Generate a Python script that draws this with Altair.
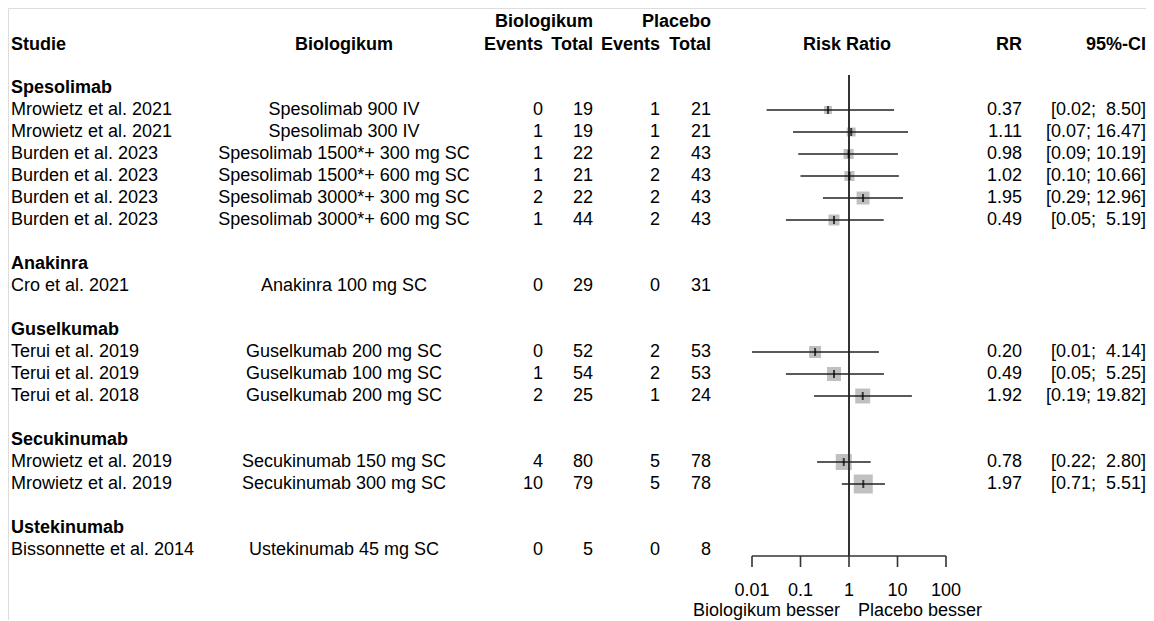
import altair as alt
import pandas as pd

# ---------------- data ----------------
groups = ["Spesolimab", "Anakinra", "Guselkumab", "Secukinumab", "Ustekinumab"]
study_group = ["Spesolimab"] * 6 + ["Anakinra"] + ["Guselkumab"] * 3 + ["Secukinumab"] * 2 + ["Ustekinumab"]
studies = ["Mrowietz et al. 2021", "Mrowietz et al. 2021", "Burden et al. 2023", "Burden et al. 2023",
           "Burden et al. 2023", "Burden et al. 2023", "Cro et al. 2021", "Terui et al. 2019",
           "Terui et al. 2019", "Terui et al. 2018", "Mrowietz et al. 2019", "Mrowietz et al. 2019",
           "Bissonnette et al. 2014"]
biologics = ["Spesolimab 900 IV", "Spesolimab 300 IV", "Spesolimab 1500*+ 300 mg SC",
             "Spesolimab 1500*+ 600 mg SC", "Spesolimab 3000*+ 300 mg SC", "Spesolimab 3000*+ 600 mg SC",
             "Anakinra 100 mg SC", "Guselkumab 200 mg SC", "Guselkumab 100 mg SC", "Guselkumab 200 mg SC",
             "Secukinumab 150 mg SC", "Secukinumab 300 mg SC", "Ustekinumab 45 mg SC"]
events_bio = [0, 1, 1, 1, 2, 1, 0, 0, 1, 2, 4, 10, 0]
total_bio = [19, 19, 22, 21, 22, 44, 29, 52, 54, 25, 80, 79, 5]
events_pla = [1, 1, 2, 2, 2, 2, 0, 2, 2, 1, 5, 5, 0]
total_pla = [21, 21, 43, 43, 43, 43, 31, 53, 53, 24, 78, 78, 8]
rr = [0.37, 1.11, 0.98, 1.02, 1.95, 0.49, None, 0.20, 0.49, 1.92, 0.78, 1.97, None]
ci_low = [0.02, 0.07, 0.09, 0.10, 0.29, 0.05, None, 0.01, 0.05, 0.19, 0.22, 0.71, None]
ci_high = [8.50, 16.47, 10.19, 10.66, 12.96, 5.19, None, 4.14, 5.25, 19.82, 2.80, 5.51, None]
weight = [16, 20, 25, 25, 42, 30, None, 36, 49, 56, 64, 90, None]
axis_ticks = [0.01, 0.1, 1, 10, 100]
axis_labels = ["0.01", "0.1", "1", "10", "100"]

# ---------------- layout helpers ----------------
FONT = "Liberation Sans"
FS = 18

rows, group_rows = [], []
k = 2
for g in groups:
    group_rows.append(k)
    n = study_group.count(g)
    rows.extend(range(k + 1, k + 1 + n))
    k += n + 2


def ci_text(lo, hi):
    if lo is None:
        return ""
    pad = "\u00a0" if hi >= 10 else "\u00a0\u00a0"
    return f"[{lo:.2f};{pad}{hi:.2f}]"


df = pd.DataFrame({
    "row": rows, "study": studies, "bio": biologics,
    "eb": [str(v) for v in events_bio], "nb": [str(v) for v in total_bio],
    "ep": [str(v) for v in events_pla], "np": [str(v) for v in total_pla],
    "rr": rr, "lo": ci_low, "hi": ci_high, "w": weight,
    "rr_txt": ["" if v is None else f"{v:.2f}" for v in rr],
    "ci_txt": [ci_text(a, b) for a, b in zip(ci_low, ci_high)],
})
gdf = pd.DataFrame({"row": group_rows, "name": groups})
fdf = df.dropna(subset=["rr"])

yscale = alt.Scale(domain=[3, 23], range=[102, 542])
xscale = alt.Scale(type="log", domain=[0.01, 100], range=[744, 938])
Y = alt.Y("row:Q", scale=yscale, axis=None)


def col(field, x, align, data=df, bold=False):
    return alt.Chart(data).mark_text(
        align=align, baseline="middle", font=FONT, fontSize=FS,
        fontWeight="bold" if bold else "normal", color="black"
    ).encode(x=alt.value(x), y=Y, text=f"{field}:N")


def label(text, x, y, align, bold=True):
    return alt.Chart(pd.DataFrame({"t": [text]})).mark_text(
        align=align, baseline="middle", font=FONT, fontSize=FS,
        fontWeight="bold" if bold else "normal", color="black"
    ).encode(x=alt.value(x), y=alt.value(y), text="t:N")


# ---------------- headers ----------------
H1, H2 = 14, 37
headers = [
    label("Biologikum", 585, H1, "right"),
    label("Placebo", 703, H1, "right"),
    label("Studie", 3, H2, "left"),
    label("Biologikum", 336, H2, "center"),
    label("Events", 535, H2, "right"),
    label("Total", 585, H2, "right"),
    label("Events", 652, H2, "right"),
    label("Total", 703, H2, "right"),
    label("Risk Ratio", 839, H2, "center"),
    label("RR", 1014, H2, "right"),
    label("95%-CI", 1138, H2, "right"),
]

# ---------------- table columns ----------------
table = [
    col("name", 3, "left", data=gdf, bold=True),
    col("study", 3, "left"),
    col("bio", 336, "center"),
    col("eb", 535, "right"),
    col("nb", 585, "right"),
    col("ep", 652, "right"),
    col("np", 703, "right"),
    col("rr_txt", 1014, "right"),
    col("ci_txt", 1138, "right"),
]

# ---------------- forest ----------------
squares = alt.Chart(fdf).mark_square(color="#c0c0c0", opacity=1).encode(
    x=alt.X("rr:Q", scale=xscale, axis=None), y=Y,
    size=alt.Size("w:Q", scale=alt.Scale(domain=[0, 100], range=[0, 400]), legend=None),
)
ref = alt.Chart(pd.DataFrame({"v": [1]})).mark_rule(color="#333333", strokeWidth=2).encode(
    x=alt.X("v:Q", scale=xscale, axis=None), y=alt.value(67), y2=alt.value(548)
)
ci = alt.Chart(fdf).mark_rule(color="#222222", strokeWidth=1.6).encode(
    x=alt.X("lo:Q", scale=xscale, axis=None), x2="hi:Q", y=Y
)
pt = alt.Chart(fdf).mark_tick(orient="vertical", color="black", size=8, thickness=2).encode(
    x=alt.X("rr:Q", scale=xscale, axis=None), y=Y
)

tdf = pd.DataFrame({"t": axis_ticks, "lab": axis_labels})
axis_line = alt.Chart(pd.DataFrame({"a": [min(axis_ticks)], "b": [max(axis_ticks)]})).mark_rule(
    color="#333333", strokeWidth=1.6).encode(
    x=alt.X("a:Q", scale=xscale, axis=None), x2="b:Q", y=alt.value(548)
)
axis_tk = alt.Chart(tdf).mark_rule(color="#333333", strokeWidth=1.6).encode(
    x=alt.X("t:Q", scale=xscale, axis=None), y=alt.value(548), y2=alt.value(559)
)
axis_lab = alt.Chart(tdf).mark_text(font=FONT, fontSize=FS, baseline="middle", color="black").encode(
    x=alt.X("t:Q", scale=xscale, axis=None), y=alt.value(583), text="lab:N"
)
fav = [
    label("Biologikum besser", 832, 603, "right", bold=False),
    label("Placebo besser", 850, 603, "left", bold=False),
]

chart = alt.layer(
    *headers, *table, squares, ref, ci, pt, axis_line, axis_tk, axis_lab, *fav
).properties(
    width=1138, height=612, padding=0, autosize="none"
).configure_view(stroke=None).configure(background="white")

chart.save("out.html", embed_options={"renderer": "svg", "actions": False})
